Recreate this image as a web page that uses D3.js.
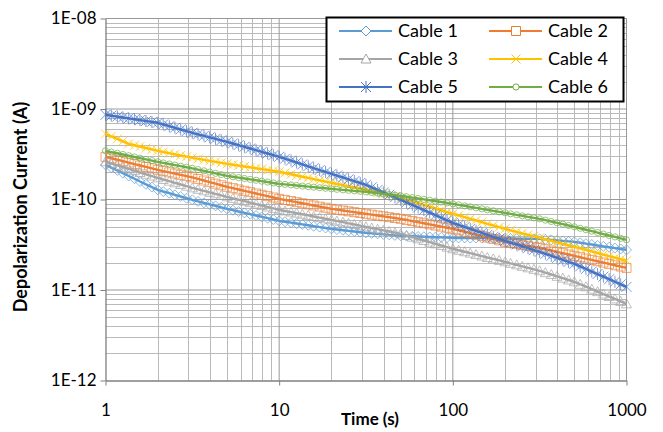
<!DOCTYPE html>
<html>
<head>
<meta charset="utf-8">
<script src="https://cdn.jsdelivr.net/npm/d3@7/dist/d3.min.js"></script>
<style>
  html, body { margin: 0; padding: 0; background: #fff; }
  svg { display: block; }
  text { font-family: Lato, "Liberation Sans", sans-serif; fill: #000; }
</style>
</head>
<body>
<script>
// Sample times (s), logarithmically spaced, 30 per decade
const times = [
  1, 1.08, 1.17, 1.26, 1.36, 1.47, 1.58, 1.71, 1.85, 2.0,
  2.15, 2.33, 2.51, 2.71, 2.93, 3.16, 3.41, 3.69, 3.98, 4.3,
  4.64, 5.01, 5.41, 5.84, 6.31, 6.81, 7.36, 7.94, 8.58, 9.26,
  10, 10.8, 11.7, 12.6, 13.6, 14.7, 15.8, 17.1, 18.5, 20.0,
  21.5, 23.3, 25.1, 27.1, 29.3, 31.6, 34.1, 36.9, 39.8, 43.0,
  46.4, 50.1, 54.1, 58.4, 63.1, 68.1, 73.6, 79.4, 85.8, 92.6,
  100, 108, 117, 126, 136, 147, 158, 171, 185, 200,
  215, 233, 251, 271, 293, 316, 341, 369, 398, 430,
  464, 501, 541, 584, 631, 681, 736, 794, 858, 926, 1000
];

// Depolarization currents in pA for each cable
const cable1 = [
  241.5, 225.0, 209.7, 195.4, 182.0, 169.6, 158.0, 147.2, 137.2, 127.8,
  122.5, 117.4, 112.5, 107.9, 103.4, 99.1, 95.35, 91.78, 88.35, 85.04,
  81.86, 78.80, 76.17, 73.63, 71.18, 68.81, 66.51, 64.29, 62.15, 60.08,
  58.07, 56.77, 55.50, 54.26, 53.05, 51.86, 50.70, 49.57, 48.46, 47.38,
  46.58, 45.80, 45.03, 44.27, 43.53, 42.80, 42.26, 41.72, 41.19, 40.67,
  40.16, 39.65, 39.43, 39.20, 38.98, 38.76, 38.54, 38.33, 38.11, 37.90,
  37.68, 37.6, 37.6, 37.5, 37.5, 37.4, 37.4, 37.3, 37.3, 37.2,
  37.1, 37.0, 36.9, 36.8, 36.7, 36.7, 36.24, 35.78, 35.33, 34.88,
  34.44, 34.01, 33.25, 32.50, 31.78, 31.07, 30.37, 29.69, 29.03, 28.38, 27.74
];
const cable2 = [
  296.1, 285.4, 275.1, 265.2, 255.6, 246.4, 237.5, 228.9, 220.7, 212.7,
  206.0, 199.6, 193.3, 187.3, 181.4, 175.7, 168.8, 162.1, 155.7, 149.6,
  143.7, 138.0, 133.4, 129.0, 124.7, 120.5, 116.5, 112.6, 108.9, 105.2,
  101.7, 98.87, 96.11, 93.43, 90.83, 88.30, 85.84, 83.45, 81.12, 78.86,
  77.21, 75.59, 74.00, 72.45, 70.93, 69.44, 67.98, 66.56, 65.16, 63.79,
  62.45, 61.14, 59.44, 57.78, 56.17, 54.60, 53.08, 51.60, 50.16, 48.76,
  47.40, 45.69, 44.04, 42.45, 40.92, 39.44, 38.02, 36.65, 35.33, 34.05,
  33.20, 32.36, 31.55, 30.76, 29.98, 29.23, 28.26, 27.31, 26.40, 25.52,
  24.67, 23.83, 23.02, 22.25, 21.51, 20.79, 20.10, 19.43, 18.78, 18.16, 17.55
];
const cable3 = [
  260.7, 249.2, 238.1, 227.6, 217.5, 207.9, 198.7, 189.9, 181.5, 173.5,
  166.3, 159.4, 152.8, 146.4, 140.4, 134.5, 129.5, 124.6, 120.0, 115.5,
  111.2, 107.0, 103.1, 99.42, 95.83, 92.37, 89.04, 85.83, 82.73, 79.75,
  76.87, 74.73, 72.64, 70.62, 68.65, 66.74, 64.88, 63.07, 61.31, 59.60,
  57.86, 56.16, 54.52, 52.93, 51.38, 49.88, 48.42, 47.00, 45.63, 44.29,
  43.00, 41.74, 40.01, 38.35, 36.76, 35.23, 33.77, 32.37, 31.02, 29.74,
  28.50, 27.47, 26.48, 25.53, 24.61, 23.72, 22.86, 22.04, 21.24, 20.48,
  19.71, 18.97, 18.26, 17.58, 16.92, 16.29, 15.55, 14.84, 14.16, 13.52,
  12.90, 12.31, 11.57, 10.87, 10.21, 9.598, 9.019, 8.475, 7.964, 7.484, 7.033
];
const cable4 = [
  531.8, 499.0, 468.3, 439.4, 412.3, 397.9, 384.0, 370.5, 357.6, 345.1,
  335.0, 325.2, 315.7, 306.4, 297.5, 288.8, 281.5, 274.4, 267.5, 260.8,
  254.3, 247.9, 242.4, 236.9, 231.6, 226.5, 221.4, 216.5, 211.6, 206.9,
  202.3, 196.1, 190.1, 184.3, 178.6, 173.2, 167.9, 162.7, 157.7, 152.9,
  148.4, 144.1, 139.9, 135.8, 131.8, 128.0, 123.7, 119.6, 115.6, 111.7,
  108.0, 104.4, 99.78, 95.37, 91.15, 87.12, 83.27, 79.59, 76.07, 72.71,
  69.49, 66.61, 63.84, 61.19, 58.65, 56.22, 53.88, 51.65, 49.50, 47.45,
  45.67, 43.96, 42.32, 40.73, 39.21, 37.74, 36.33, 34.97, 33.66, 32.40,
  31.19, 30.02, 28.86, 27.74, 26.66, 25.63, 24.63, 23.68, 22.76, 21.87, 21.03
];
const cable5 = [
  862.6, 843.3, 824.4, 806.0, 788.0, 770.4, 753.2, 736.3, 719.8, 703.7,
  674.5, 646.5, 619.7, 594.0, 569.3, 545.5, 525.1, 505.4, 486.5, 468.3,
  450.8, 433.9, 415.9, 398.6, 382.1, 366.2, 351.0, 336.4, 322.5, 309.1,
  296.3, 282.2, 269.0, 256.4, 244.3, 232.9, 222.0, 211.5, 201.6, 192.2,
  183.4, 175.1, 167.1, 159.5, 152.2, 145.3, 136.2, 127.8, 119.9, 112.6,
  105.6, 99.1, 92.86, 87.01, 81.54, 76.40, 71.59, 67.09, 62.86, 58.91,
  55.20, 52.46, 49.86, 47.38, 45.03, 42.80, 40.67, 38.65, 36.74, 34.91,
  33.32, 31.80, 30.35, 28.97, 27.65, 26.39, 25.08, 23.84, 22.65, 21.53,
  20.46, 19.45, 18.22, 17.08, 16.00, 14.99, 14.05, 13.17, 12.34, 11.56, 10.83
];
const cable6 = [
  344.9, 334.3, 324.1, 314.2, 304.6, 295.2, 286.2, 277.4, 268.9, 260.7,
  253.6, 246.7, 240.0, 233.5, 227.2, 221.0, 214.1, 207.4, 200.9, 194.6,
  188.5, 182.6, 178.5, 174.5, 170.6, 166.8, 163.1, 159.4, 155.9, 152.4,
  149.0, 146.9, 144.9, 142.8, 140.8, 138.8, 136.9, 135.0, 133.1, 131.2,
  129.5, 127.9, 126.3, 124.7, 123.1, 121.5, 119.5, 117.5, 115.5, 113.6,
  111.7, 109.8, 107.3, 104.9, 102.6, 100.3, 98.06, 95.87, 93.72, 91.63,
  89.58, 87.33, 85.13, 82.99, 80.91, 78.88, 76.90, 74.97, 73.08, 71.25,
  69.46, 67.71, 66.01, 64.35, 62.74, 61.16, 59.12, 57.15, 55.24, 53.40,
  51.62, 49.90, 48.10, 46.36, 44.69, 43.08, 41.52, 40.02, 38.58, 37.19, 35.85
];

const seriesNames = ["Cable 1", "Cable 2", "Cable 3", "Cable 4", "Cable 5", "Cable 6"];
const seriesValues = [cable1, cable2, cable3, cable4, cable5, cable6];
const xTickValues = [1, 10, 100, 1000];
const xTickLabels = ["1", "10", "100", "1000"];
const yTickValues = [1e-12, 1e-11, 1e-10, 1e-9, 1e-8];
const yTickLabels = ["1E-12", "1E-11", "1E-10", "1E-09", "1E-08"];
const PICO = 1e-12;

const colors = ["#5b9bd5", "#ed7d31", "#a5a5a5", "#ffc000", "#4472c4", "#70ad47"];
const markerKinds = ["diamond", "square", "triangle", "cross", "star", "circle"];

const W = 663, H = 432;
const svg = d3.select("body").append("svg").attr("width", W).attr("height", H);
svg.append("rect").attr("width", W).attr("height", H).attr("fill", "#fff");

const x = d3.scaleLog().domain([1, 1000]).range([105.5, 626.5]);
const y = d3.scaleLog().domain([1e-12, 1e-8]).range([380.5, 18.5]);
const [x0, x1] = x.range();
const [y0, y1] = y.range();

// Grid: minor lines for every 2..9 within a decade, major lines at the decades
const grid = svg.append("g");
const xMinor = [], yMinor = [];
for (const d of [1, 10, 100]) for (let m = 2; m <= 9; m++) xMinor.push(m * d);
for (const d of [1e-12, 1e-11, 1e-10, 1e-9]) for (let m = 2; m <= 9; m++) yMinor.push(m * d);

grid.selectAll(".xm").data(xMinor).join("line")
  .attr("x1", d => Math.round(x(d)) + 0.5).attr("x2", d => Math.round(x(d)) + 0.5)
  .attr("y1", y1).attr("y2", y0).attr("stroke", "#bababa").attr("stroke-width", 1);
grid.selectAll(".ym").data(yMinor).join("line")
  .attr("y1", d => Math.round(y(d)) + 0.5).attr("y2", d => Math.round(y(d)) + 0.5)
  .attr("x1", x0).attr("x2", x1).attr("stroke", "#bababa").attr("stroke-width", 1);
grid.selectAll(".xM").data(xTickValues.slice(1)).join("line")
  .attr("x1", d => x(d)).attr("x2", d => x(d))
  .attr("y1", y1).attr("y2", y0).attr("stroke", "#999").attr("stroke-width", 1);
grid.selectAll(".yM").data(yTickValues.slice(1)).join("line")
  .attr("y1", d => y(d)).attr("y2", d => y(d))
  .attr("x1", x0).attr("x2", x1).attr("stroke", "#999").attr("stroke-width", 1);

// Axes
const xAxis = d3.axisBottom(x).tickValues(xTickValues).tickFormat((d, i) => xTickLabels[i])
  .tickSizeInner(5).tickSizeOuter(0).tickPadding(18);
const yAxis = d3.axisLeft(y).tickValues(yTickValues).tickFormat((d, i) => yTickLabels[i])
  .tickSizeInner(5).tickSizeOuter(0).tickPadding(4);

const gx = svg.append("g").attr("transform", `translate(0,${y0})`).call(xAxis);
const gy = svg.append("g").attr("transform", `translate(${x0},0)`).call(yAxis);
for (const g of [gx, gy]) {
  g.select(".domain").attr("stroke", "#7f7f7f").attr("stroke-width", 1.3);
  g.selectAll(".tick line").attr("stroke", "#7f7f7f");
  g.selectAll(".tick text").attr("font-family", "Lato, 'Liberation Sans', sans-serif")
    .attr("font-size", 17).attr("fill", "#000");
}

// Marker shapes
function markerPath(kind) {
  switch (kind) {
    case "diamond": return "M0,-5L5,0L0,5L-5,0Z";
    case "square": return "M-4.5,-4.5H4.5V4.5H-4.5Z";
    case "triangle": return "M0,-5L5,4H-5Z";
    case "cross": return "M-4.5,-4.5L4.5,4.5M-4.5,4.5L4.5,-4.5";
    case "star": return "M-5,-5L5,5M-5,5L5,-5M0,-6V6";
    case "circle": return d3.symbol(d3.symbolCircle, 30)();
  }
}

const line = d3.line()
  .x(d => x(d.t))
  .y(d => y(d.v));

seriesValues.forEach((vals, s) => {
  const pts = times.map((t, i) => ({ t, v: vals[i] * PICO }));
  const g = svg.append("g");
  g.append("path").datum(pts).attr("d", line)
    .attr("fill", "none").attr("stroke", colors[s]).attr("stroke-width", 2.4)
    .attr("stroke-linejoin", "round");
  g.selectAll("path.mk").data(pts).join("path").attr("class", "mk")
    .attr("transform", d => `translate(${x(d.t)},${y(d.v)})`)
    .attr("d", markerPath(markerKinds[s]))
    .attr("fill", "none").attr("stroke", colors[s]).attr("stroke-width", 1)
    .attr("stroke-opacity", 0.7);
});

// Axis titles
svg.append("text").attr("x", 370).attr("y", 425).attr("text-anchor", "middle")
  .attr("font-weight", "bold").attr("font-size", 17).text("Time (s)");
svg.append("text").attr("transform", "translate(27,207) rotate(-90)").attr("text-anchor", "middle")
  .attr("font-weight", "bold").attr("font-size", 18).text("Depolarization Current (A)");

// Legend
const legend = svg.append("g");
legend.append("rect").attr("x", 326.5).attr("y", 17.5).attr("width", 297).attr("height", 84)
  .attr("fill", "#fff").attr("stroke", "#000").attr("stroke-width", 2);
seriesNames.forEach((name, s) => {
  const col = s % 2, row = Math.floor(s / 2);
  const lx = 339 + col * 150, ly = 31 + row * 28;
  legend.append("line").attr("x1", lx).attr("x2", lx + 53).attr("y1", ly).attr("y2", ly)
    .attr("stroke", colors[s]).attr("stroke-width", 2);
  legend.append("path").attr("transform", `translate(${lx + 27},${ly})`)
    .attr("d", markerPath(markerKinds[s]))
    .attr("fill", markerKinds[s] === "cross" || markerKinds[s] === "star" ? "none" : "#fff")
    .attr("stroke", colors[s]).attr("stroke-width", 1);
  legend.append("text").attr("x", lx + 59).attr("y", ly).attr("dy", "0.36em")
    .attr("font-size", 18).text(name);
});
</script>
</body>
</html>
